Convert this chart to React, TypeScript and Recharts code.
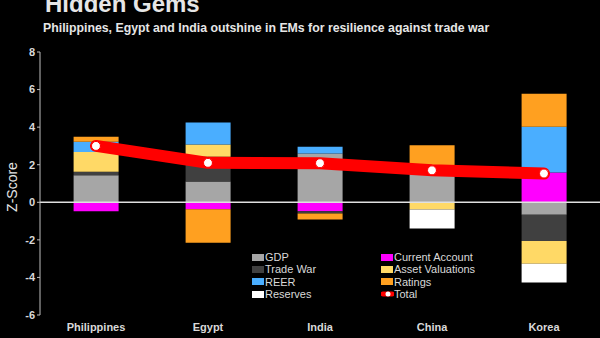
import React from 'react';
import {
  ComposedChart, Bar, Line, XAxis, YAxis, ReferenceLine,
} from 'recharts';

const categories = ['Philippines', 'Egypt', 'India', 'China', 'Korea'];
const gdp = [1.44, 1.1, 2.6, 1.7, -0.66];
const currentAccount = [-0.48, -0.37, -0.48, 0, 1.58];
const tradeWar = [0.18, 1.32, -0.12, 0, -1.4];
const assetValuations = [1.06, 0.66, 0, -0.38, -1.21];
const reer = [0.54, 1.17, 0.35, 0, 2.44];
const ratings = [0.27, -1.78, -0.32, 1.34, 1.76];
const reserves = [0, 0, 0, -1.02, -1.0];
const total = [3.0, 2.1, 2.08, 1.7, 1.53];
const yTicks = [-6, -4, -2, 0, 2, 4, 6, 8];

const FONT = '"Liberation Sans", Arial, sans-serif';

// stacking order (also legend order, row by row)
const series = [
  { key: 'gdp', name: 'GDP', color: '#a6a6a6' },
  { key: 'currentAccount', name: 'Current Account', color: '#ff00ff' },
  { key: 'tradeWar', name: 'Trade War', color: '#404040' },
  { key: 'assetValuations', name: 'Asset Valuations', color: '#ffd966' },
  { key: 'reer', name: 'REER', color: '#4aaeff' },
  { key: 'ratings', name: 'Ratings', color: '#ffa020' },
  { key: 'reserves', name: 'Reserves', color: '#ffffff' },
];

const data = categories.map((name, i) => ({
  name,
  gdp: gdp[i],
  currentAccount: currentAccount[i],
  tradeWar: tradeWar[i],
  assetValuations: assetValuations[i],
  reer: reer[i],
  ratings: ratings[i],
  reserves: reserves[i],
  total: total[i],
}));

function LegendBox() {
  const items = [...series.map(s => ({ name: s.name, color: s.color, line: false })), { name: 'Total', color: '#ff0000', line: true }];
  return (
    <div style={{
      position: 'absolute', left: 252, top: 251,
      display: 'grid', gridTemplateColumns: '129px 120px',
      fontFamily: FONT, fontSize: 11, color: '#d9d9d9', lineHeight: '12.3px',
    }}>
      {items.map(it => (
        <div key={it.name} style={{ display: 'flex', alignItems: 'center', whiteSpace: 'nowrap' }}>
          {it.line ? (
            <svg width={13} height={8} style={{ marginRight: 0 }}>
              <line x1={2} y1={4} x2={11} y2={4} stroke="#ff0000" strokeWidth={5} strokeLinecap="round" />
              <circle cx={7} cy={4} r={2.5} fill="#fff" />
            </svg>
          ) : (
            <span style={{ display: 'inline-block', width: 12, height: 7, background: it.color, marginRight: 1 }} />
          )}
          {it.name}
        </div>
      ))}
    </div>
  );
}

export default function App() {
  return (
    <div style={{ position: 'absolute', left: 0, top: 0, width: 600, height: 338, background: '#000', overflow: 'hidden', fontFamily: FONT }}>
      <div style={{ position: 'absolute', left: 0, top: 0 }}>
        <ComposedChart
          width={600}
          height={338}
          data={data}
          stackOffset="sign"
          barCategoryGap="30%"
          margin={{ top: 52, right: 0, bottom: 0, left: 0 }}
        >
          <XAxis
            dataKey="name"
            height={23}
            axisLine={false}
            tickLine={false}
            tick={{ fontSize: 11, fontWeight: 700, fill: '#d9d9d9', fontFamily: FONT }}
          />
          <YAxis
            width={40}
            domain={[-6, 8]}
            ticks={yTicks}
            interval={0}
            stroke="#bfbfbf"
            tickSize={3}
            tick={{ fontSize: 11, fontWeight: 700, fill: '#d9d9d9', fontFamily: FONT }}
          />
          {series.map(s => (
            <Bar key={s.key} dataKey={s.key} name={s.name} stackId="a" fill={s.color} isAnimationActive={false} />
          ))}
          <ReferenceLine y={0} stroke="#e0e0e0" strokeWidth={1.5} ifOverflow="visible" />
          <Line
            dataKey="total"
            name="Total"
            type="linear"
            stroke="#ff0000"
            strokeWidth={12}
            strokeLinecap="round"
            strokeLinejoin="round"
            dot={{ r: 4.5, fill: '#ffffff', stroke: '#ff0000', strokeWidth: 1 }}
            isAnimationActive={false}
          />
        </ComposedChart>
      </div>
      <div style={{ position: 'absolute', left: 45, top: -10, fontSize: 24, fontWeight: 700, color: '#e6e6e6', whiteSpace: 'nowrap' }}>
        Hidden Gems
      </div>
      <div style={{ position: 'absolute', left: 43, top: 21, fontSize: 12.3, fontWeight: 700, color: '#e6e6e6', whiteSpace: 'nowrap' }}>
        Philippines, Egypt and India outshine in EMs for resilience against trade war
      </div>
      <div style={{
        position: 'absolute', left: 12, top: 187, transform: 'translate(-50%, -50%) rotate(-90deg)',
        fontSize: 14, color: '#e6e6e6', whiteSpace: 'nowrap',
      }}>
        Z-Score
      </div>
      <LegendBox />
    </div>
  );
}
